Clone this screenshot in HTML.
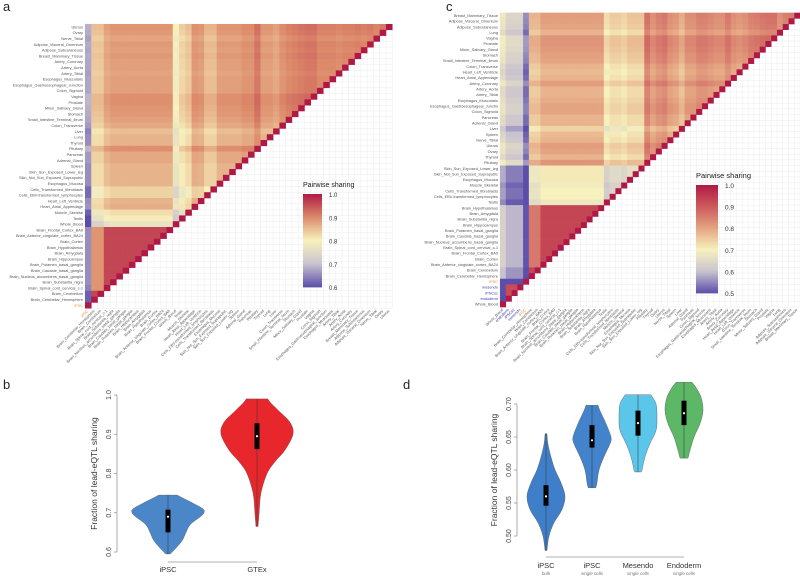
<!DOCTYPE html>
<html><head><meta charset="utf-8"><style>
html,body{margin:0;padding:0;background:#fff;}
svg{display:block;font-family:"Liberation Sans",sans-serif;}
</style></head><body>
<svg id="fig" width="800" height="576" viewBox="0 0 800 576" xmlns="http://www.w3.org/2000/svg">
<text x="3" y="11" font-size="13" fill="#222">a</text>
<text x="446" y="11" font-size="13" fill="#222">c</text>
<text x="3" y="389" font-size="13" fill="#222">b</text>
<text x="403" y="389" font-size="13" fill="#222">d</text>
<g id="pa"></g>
<g id="pc"></g>
<g id="pb"></g>
<g id="pd"></g>
</svg>
<script>
const NS="http://www.w3.org/2000/svg";
// ---- Panel a data ----
const tissuesA=["Uterus","Ovary","Nerve_Tibial","Adipose_Visceral_Omentum","Adipose_Subcutaneous","Breast_Mammary_Tissue","Artery_Coronary","Artery_Aorta","Artery_Tibial","Esophagus_Muscularis","Esophagus_Gastroesophageal_Junction","Colon_Sigmoid","Vagina","Prostate","Minor_Salivary_Gland","Stomach","Small_Intestine_Terminal_Ileum","Colon_Transverse","Liver","Lung","Thyroid","Pituitary","Pancreas","Adrenal_Gland","Spleen","Skin_Sun_Exposed_Lower_leg","Skin_Not_Sun_Exposed_Suprapubic","Esophagus_Mucosa","Cells_Transformed_fibroblasts","Cells_EBV-transformed_lymphocytes","Heart_Left_Ventricle","Heart_Atrial_Appendage","Muscle_Skeletal","Testis","Whole_Blood","Brain_Frontal_Cortex_BA9","Brain_Anterior_cingulate_cortex_BA24","Brain_Cortex","Brain_Hypothalamus","Brain_Amygdala","Brain_Hippocampus","Brain_Putamen_basal_ganglia","Brain_Caudate_basal_ganglia","Brain_Nucleus_accumbens_basal_ganglia","Brain_Substantia_nigra","Brain_Spinal_cord_cervical_c-1","Brain_Cerebellum","Brain_Cerebellar_Hemisphere","iPSC"];
const baseA=[0.92,0.91,0.89,0.91,0.9,0.91,0.9,0.9,0.89,0.9,0.9,0.9,0.93,0.93,0.92,0.91,0.9,0.88,0.84,0.86,0.86,0.93,0.88,0.88,0.86,0.86,0.86,0.86,0.8,0.8,0.86,0.87,0.78,0.75,0.68,0.86,0.86,0.86,0.86,0.86,0.86,0.86,0.86,0.86,0.86,0.84,0.78,0.78,0.45];
const brainPairA=0.96;
const stopsA=[[0.6,[91,78,170]],[0.7,[201,195,207]],[0.8,[247,241,189]],[0.9,[220,138,106]],[1.0,[176,25,69]]];
const ticksA=[1.0,0.9,0.8,0.7,0.6];
// ---- Panel c data ----
const tissuesC=["Breast_Mammary_Tissue","Adipose_Visceral_Omentum","Adipose_Subcutaneous","Lung","Vagina","Prostate","Minor_Salivary_Gland","Stomach","Small_Intestine_Terminal_Ileum","Colon_Transverse","Heart_Left_Ventricle","Heart_Atrial_Appendage","Artery_Coronary","Artery_Aorta","Artery_Tibial","Esophagus_Muscularis","Esophagus_Gastroesophageal_Junctio","Colon_Sigmoid","Pancreas","Adrenal_Gland","Liver","Spleen","Nerve_Tibial","Uterus","Ovary","Thyroid","Pituitary","Skin_Sun_Exposed_Lower_leg","Skin_Not_Sun_Exposed_Suprapubic","Esophagus_Mucosa","Muscle_Skeletal","Cells_Transformed_fibroblasts","Cells_EBV-transformed_lymphocytes","Testis","Brain_Hypothalamus","Brain_Amygdala","Brain_Substantia_nigra","Brain_Hippocampus","Brain_Putamen_basal_ganglia","Brain_Caudate_basal_ganglia","Brain_Nucleus_accumbens_basal_ganglia","Brain_Spinal_cord_cervical_c-1","Brain_Frontal_Cortex_BA9","Brain_Cortex","Brain_Anterior_cingulate_cortex_BA24","Brain_Cerebellum","Brain_Cerebellar_Hemisphere","iPSC","mesendo","iPSCsc","endoderm","Whole_Blood"];
const baseC=[0.86,0.85,0.84,0.8,0.88,0.88,0.87,0.85,0.84,0.8,0.78,0.8,0.86,0.8,0.8,0.82,0.84,0.84,0.8,0.8,0.72,0.78,0.8,0.86,0.84,0.8,0.88,0.66,0.66,0.66,0.62,0.64,0.64,0.6,0.76,0.76,0.76,0.76,0.76,0.76,0.76,0.76,0.76,0.76,0.76,0.7,0.7,0.25,0.42,0.42,0.42,0.5];
const brainPairC=0.93;
const ipscPairC=0.92;
const stopsC=[[0.5,[91,78,170]],[0.6,[201,195,207]],[0.7,[247,241,189]],[0.8,[228,164,129]],[0.9,[204,90,92]],[1.0,[176,25,69]]];
const ticksC=[1.0,0.9,0.8,0.7,0.6,0.5];

function el(tag,attrs,parent){const e=document.createElementNS(NS,tag);for(const k in attrs)e.setAttribute(k,attrs[k]);parent.appendChild(e);return e;}
function colorOf(v,stops){v=Math.max(stops[0][0],Math.min(stops[stops.length-1][0],v));for(let i=0;i<stops.length-1;i++){const a=stops[i],b=stops[i+1];if(v<=b[0]){const t=(v-a[0])/(b[0]-a[0]);const c=a[1].map((x,k)=>Math.round(x+(b[1][k]-x)*t));return`rgb(${c[0]},${c[1]},${c[2]})`;}}return"#000";}
function isBrain(n){return n.indexOf("Brain_")===0;}
function isSc(n){return n==="mesendo"||n==="iPSCsc"||n==="endoderm";}

function heatmap(g,tissues,base,stops,brainPair,scPair,x0,y0,cw,ch,ticks,leg,colored){
  const n=tissues.length;
  // background grid
  for(let i=0;i<=n;i++){
    const h=el("line",{x1:x0,x2:x0+n*cw,y1:y0+i*ch,y2:y0+i*ch,stroke:"#ececec","stroke-width":0.5},g);
    
    
    const v=el("line",{x1:x0+i*cw,x2:x0+i*cw,y1:y0,y2:y0+n*ch,stroke:"#ececec","stroke-width":0.5},g);
    
    
  }
  for(let r=0;r<n;r++){
    for(let c=0;c<n-r;c++){
      const t2=n-1-c;
      const a=tissues[r],b=tissues[t2];
      let v;
      if(r===t2)v=1;
      else if(isBrain(a)&&isBrain(b))v=brainPair-((a.indexOf("Cerebell")>=0)!==(b.indexOf("Cerebell")>=0)?0.07:0);
      else if(scPair&&isSc(a)&&isSc(b))v=scPair;
      else v=(base[r]+base[t2])/2;
      const rc=el("rect",{x:x0+c*cw,y:y0+r*ch,width:cw+0.3,height:ch+0.3,fill:colorOf(v,stops)},g);
      
      
    }
    const lt=el("text",{x:x0-2,y:y0+r*ch+ch*0.75,"font-size":3.9,"text-anchor":"end",fill:colored(tissues[r])},g);
    lt.textContent=tissues[r];
    
    
  }
  for(let c=0;c<n;c++){
    const t2=n-1-c;
    const cx=x0+c*cw+cw*0.6,cy=y0+n*ch+3;
    const ct=el("text",{x:cx,y:cy,"font-size":3.9,"text-anchor":"end",fill:colored(tissues[t2]),transform:`rotate(-45 ${cx} ${cy})`},g);
    ct.textContent=tissues[t2];
    
    
  }
  // legend
  const tt=el("text",{x:leg.x,y:leg.y-7,"font-size":leg.fs,fill:"#222"},g);
  tt.textContent="Pairwise sharing";
  
  
  const lo=stops[0][0],hi=stops[stops.length-1][0];
  const steps=60;
  for(let i=0;i<steps;i++){
    const v=hi-(hi-lo)*(i+0.5)/steps;
    const lr=el("rect",{x:leg.x,y:leg.y+leg.h*i/steps,width:leg.w,height:leg.h/steps+0.4,fill:colorOf(v,stops)},g);
    
    
  }
  ticks.forEach(t=>{
    const yy=leg.y+leg.h*(hi-t)/(hi-lo);
    const tl=el("text",{x:leg.x+leg.w+7,y:yy+3,"font-size":leg.fs-1,fill:"#333"},g);
    tl.textContent=t.toFixed(1);
    
    
  });
}
heatmap(document.getElementById("pa"),tissuesA,baseA,stopsA,brainPairA,null,85,24,6.27,5.8,ticksA,{x:303,y:194,w:19,h:93,fs:7},n=>n==="iPSC"?"#e69a3a":"#555");
heatmap(document.getElementById("pc"),tissuesC,baseC,stopsC,brainPairC,ipscPairC,500,12.7,5.77,5.66,ticksC,{x:696,y:185,w:22,h:108,fs:7.5},n=>n==="iPSC"?"#e69a3a":(isSc(n)?"#3a3ab0":"#555"));

// ---- Violin data ----
const catsB=["iPSC","GTEx"];
const levelsB=[[0.595,0.61,0.63,0.65,0.67,0.69,0.70,0.71,0.725,0.738,0.745],[0.665,0.7,0.75,0.8,0.83,0.86,0.9,0.93,0.96,0.98,0.99]];
const densB=[[0.06,0.22,0.4,0.5,0.62,0.9,1.0,0.97,0.68,0.4,0.26],[0.03,0.06,0.11,0.28,0.5,0.78,1.0,0.92,0.6,0.38,0.3]];
const boxB=[[0.65,0.69,0.708],[0.862,0.895,0.928]];
const colB=["#4a86c8","#e8272c"];
const ticksB=[0.6,0.7,0.8,0.9,1.0];

const catsD=["iPSC","iPSC","Mesendo","Endoderm"];
const subD=["bulk","single cells","single cells","single cells"];
const levelsD=[[0.478,0.5,0.52,0.54,0.56,0.58,0.6,0.62,0.64,0.655],[0.573,0.58,0.6,0.62,0.64,0.65,0.67,0.69,0.698],[0.597,0.6,0.62,0.64,0.66,0.68,0.70,0.714],[0.618,0.63,0.65,0.67,0.69,0.71,0.725,0.733]];
const densD=[[0.05,0.16,0.42,0.84,1.0,0.8,0.48,0.26,0.1,0.05],[0.2,0.26,0.37,0.63,0.95,1.0,0.74,0.42,0.32],[0.16,0.21,0.37,0.63,0.95,1.0,0.95,0.68],[0.21,0.32,0.53,0.84,1.0,0.9,0.63,0.42]];
const boxD=[[0.546,0.56,0.577],[0.634,0.645,0.668],[0.652,0.671,0.69],[0.668,0.686,0.705]];
const colD=["#3f7fc9","#4283cc","#5cc6ea","#5cb867"];
const ticksD=[0.5,0.55,0.6,0.65,0.7];

function smoothPath(pts){let d=`M${pts[0][0]},${pts[0][1]}`;for(let i=0;i<pts.length-1;i++){const p0=pts[Math.max(0,i-1)],p1=pts[i],p2=pts[i+1],p3=pts[Math.min(pts.length-1,i+2)];d+=` C${p1[0]+(p2[0]-p0[0])/6},${p1[1]+(p2[1]-p0[1])/6} ${p2[0]-(p3[0]-p1[0])/6},${p2[1]-(p3[1]-p1[1])/6} ${p2[0]},${p2[1]}`;}return d;}

function violins(g,o){
  const y=v=>o.yTop+(o.vMax-v)/(o.vMax-o.vMin)*(o.yBot-o.yTop);
  const ax=el("line",{x1:o.axX,x2:o.axX,y1:y(o.ticks[o.ticks.length-1]),y2:y(o.ticks[0]),stroke:"#999","stroke-width":0.8},g);
  
  
  o.ticks.forEach(t=>{
    const tk=el("line",{x1:o.axX-3,x2:o.axX,y1:y(t),y2:y(t),stroke:"#999","stroke-width":0.8},g);
    
    
    const tx=o.axX-6,ty=y(t);
    const tl=el("text",{x:tx,y:ty,"font-size":7,"text-anchor":"middle",fill:"#444",transform:`rotate(-90 ${tx} ${ty})`},g);
    tl.textContent=o.fmt(t);
    
    
  });
  const ytx=o.axX-20,yty=(o.yTop+o.yBot)/2;
  const yt=el("text",{x:ytx,y:yty,"font-size":8.5,"text-anchor":"middle",fill:"#333",transform:`rotate(-90 ${ytx} ${yty})`},g);
  yt.textContent="Fraction of lead-eQTL sharing";
  
  
  const xa=el("line",{x1:o.cx[0],x2:o.cx[o.cx.length-1],y1:o.xAxY,y2:o.xAxY,stroke:"#999","stroke-width":0.8},g);
  
  
  o.cats.forEach((c,i)=>{
    const cx=o.cx[i];
    const L=o.levels[i],D=o.dens[i];
    const right=L.map((v,k)=>[cx+D[k]*o.hw,y(v)]);
    const left=L.map((v,k)=>[cx-D[k]*o.hw,y(v)]).reverse();
    const d=smoothPath(right)+" L"+left[0][0]+","+left[0][1]+smoothPath(left).slice(smoothPath(left).indexOf(" C"))+" Z";
    const p=el("path",{d:d,fill:o.col[i],stroke:"#555","stroke-width":0.4},g);
    
    
    const wl=el("line",{x1:cx,x2:cx,y1:y(L[0]),y2:y(L[L.length-1]),stroke:"#333","stroke-width":0.5},g);
    
    
    const b=o.box[i];
    const br=el("rect",{x:cx-2.5,y:y(b[2]),width:5,height:y(b[0])-y(b[2]),fill:"#000"},g);
    
    
    const md=el("circle",{cx:cx,cy:y(b[1]),r:1.1,fill:"#fff"},g);
    
    
    const xl=el("text",{x:cx,y:o.labY,"font-size":7.5,"text-anchor":"middle",fill:"#333"},g);
    xl.textContent=c;
    
    
    if(o.sub){
      const sl=el("text",{x:cx,y:o.labY+7,"font-size":4.5,"font-style":"italic","text-anchor":"middle",fill:"#777"},g);
      sl.textContent=o.sub[i];
      
      
    }
  });
}
violins(document.getElementById("pb"),{yTop:395,yBot:552,vMin:0.6,vMax:1.0,axX:117,ticks:ticksB,fmt:t=>t.toFixed(1),cats:catsB,cx:[168,257],levels:levelsB,dens:densB,box:boxB,col:colB,hw:36,xAxY:562,labY:572});
violins(document.getElementById("pd"),{yTop:404,yBot:536,vMin:0.5,vMax:0.7,axX:517,ticks:ticksD,fmt:t=>t.toFixed(2),cats:catsD,sub:subD,cx:[546,592,638,684],levels:levelsD,dens:densD,box:boxD,col:colD,hw:19,xAxY:557,labY:568});
</script>
</body></html>
